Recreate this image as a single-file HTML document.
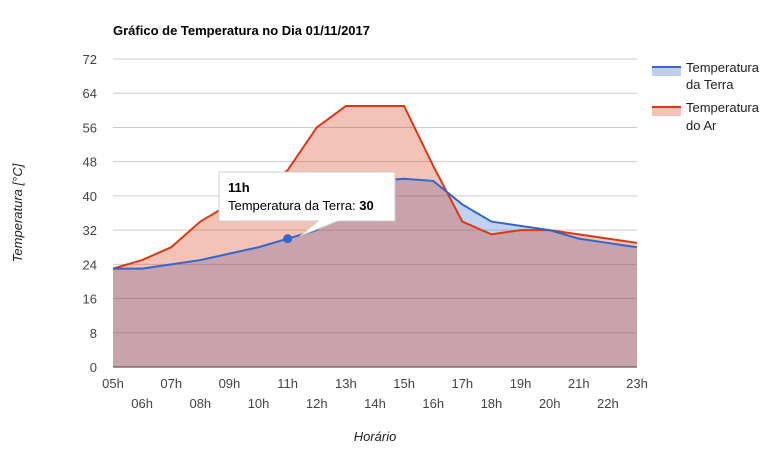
<!DOCTYPE html>
<html><head><meta charset="utf-8"><style>
body{margin:0;background:#fff;font-family:"Liberation Sans",Arial,sans-serif}
svg text{font-family:"Liberation Sans",Arial,sans-serif}
</style></head><body>
<svg id="c" width="772" height="451" xmlns="http://www.w3.org/2000/svg">
<text x="113" y="35" font-size="13" font-weight="bold" fill="#000">Gráfico de Temperatura no Dia 01/11/2017</text>
<text transform="translate(22,213) rotate(-90)" text-anchor="middle" font-size="13" font-style="italic" fill="#222">Temperatura [°C]</text>
<text x="375" y="441" text-anchor="middle" font-size="13" font-style="italic" fill="#222">Horário</text>
<g id="grid"></g><g id="areas"></g><g id="xt"></g>
<g>
<g><rect x="652" y="67" width="29" height="9" fill="#c0cdee"/><rect x="652" y="66" width="29" height="2" fill="#3366cc"/>
<text x="686" y="72" font-size="13" fill="#222">Temperatura</text><text x="686" y="89" font-size="13" fill="#222">da Terra</text></g>
<g><rect x="652" y="107" width="29" height="9" fill="#f4c3b7"/><rect x="652" y="106" width="29" height="2" fill="#dc3912"/>
<text x="686" y="112" font-size="13" fill="#222">Temperatura</text><text x="686" y="130" font-size="13" fill="#222">do Ar</text></g>
</g>
<g id="tip">
<path d="M219,172 L395,172 L395,221 L338,221 L300,236 L318,221 L219,221 Z" fill="#fff" stroke="#ccc" stroke-width="1"/>
<text x="228" y="192" font-size="13" font-weight="bold" fill="#000">11h</text>
<text x="228" y="210" font-size="13" fill="#000">Temperatura da Terra: <tspan font-weight="bold">30</tspan></text>
</g>
</svg>
<script>
const hours=["05h","06h","07h","08h","09h","10h","11h","12h","13h","14h","15h","16h","17h","18h","19h","20h","21h","22h","23h"];
const terra=[23,23,24,25,26.5,28,30,32,40,43.5,44,43.5,38,34,33,32,30,29,28];
const ar=[23,25,28,34,38,41,46,56,61,61,61,47,34,31,32,32,31,30,29];
const yTicks=[0,8,16,24,32,40,48,56,64,72];
const NS="http://www.w3.org/2000/svg";
const x0=113,x1=637,yb=367,yt=59;
const X=i=>x0+(x1-x0)*i/(hours.length-1);
const Y=v=>yb-(yb-yt)*v/72;
function mk(t,a,p){const e=document.createElementNS(NS,t);for(const k in a)e.setAttribute(k,a[k]);p.appendChild(e);return e;}
const g=document.getElementById('grid');
yTicks.forEach(v=>{
 const l=mk('line',{x1:x0,x2:x1,y1:Y(v),y2:Y(v),stroke:v===0?'#333':'#ccc','stroke-width':1},g);
 
 
 const t=mk('text',{x:97,y:Y(v)+5,'text-anchor':'end','font-size':13,fill:'#444'},g);t.textContent=v;
 
 
});
const xt=document.getElementById('xt');
hours.forEach((h,i)=>{
 const t=mk('text',{x:X(i),y:i%2===0?388:408,'text-anchor':'middle','font-size':13,fill:'#444'},xt);t.textContent=h;
 
 
});
const a=document.getElementById('areas');
function pts(vals){return vals.map((v,i)=>X(i)+','+Y(v)).join(' ');}
function area(vals,fill,name){
 const e=mk('polygon',{points:pts(vals)+' '+x1+','+yb+' '+x0+','+yb,fill:fill,'fill-opacity':0.3},a);
 
 
}
function line(vals,col,name){
 const e=mk('polyline',{points:pts(vals),fill:'none',stroke:col,'stroke-width':2},a);
 
 
}
area(terra,'#3366cc','terra');
area(ar,'#dc3912','ar');
line(ar,'#dc3912','ar');
line(terra,'#3366cc','terra');
const dot=mk('circle',{cx:X(6),cy:Y(terra[6]),r:4.5,fill:'#3366cc'},a);


document.getElementById('c').appendChild(document.getElementById('tip'));
</script>
</body></html>
